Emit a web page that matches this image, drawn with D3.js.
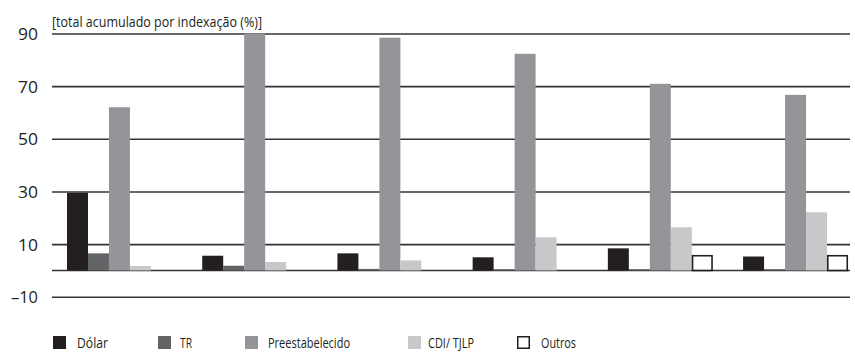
<!DOCTYPE html>
<html>
<head>
<meta charset="utf-8">
<script src="https://cdn.jsdelivr.net/npm/d3@7"></script>
<style>
  html, body { margin: 0; padding: 0; background: #fff; }
  svg { display: block; }
  text { font-family: "Open Sans", "Liberation Sans", sans-serif; fill: #231f20; }
</style>
</head>
<body>
<svg id="chart" width="855" height="352"></svg>
<script>
// Groups along the x axis (no labels are drawn for them)
const groups = ["G1", "G2", "G3", "G4", "G5", "G6"];

// Series names, in legend order
const seriesNames = ["Dólar", "TR", "Preestabelecido", "CDI/ TJLP", "Outros"];

// Accumulated share by indexation (%), one array per series
const dolar = [29.5, 5.6, 6.5, 5.0, 8.4, 5.3];
const tr = [6.5, 1.8, 0.6, 0.5, 0.5, 0.5];
const preestabelecido = [62, 90, 88.4, 82.3, 70.9, 66.7];
const cdiTjlp = [1.7, 3.2, 3.8, 12.6, 16.4, 22.1];
const outros = [0, 0, 0, 0, 5.6, 5.6];

// Y axis tick values and their labels
const yTicks = [-10, 10, 30, 50, 70, 90];
const yTickLabels = ["\u201310", "10", "30", "50", "70", "90"];

const axisTitle = "[total acumulado por indexação (%)]";

const seriesValues = [dolar, tr, preestabelecido, cdiTjlp, outros];
const fills = ["#231f20", "#636466", "#939598", "#c7c8ca", "#ffffff"];
const strokes = [null, null, null, null, "#231f20"];

const svg = d3.select("#chart");

const gridLeft = 52, gridRight = 850;

const y = d3.scaleLinear().domain([-10, 90]).range([296.8, 33.5]);

const x0 = d3.scaleBand().domain(groups).range([67, 848]).paddingInner(0.224).paddingOuter(0);
const x1 = d3.scaleBand().domain(seriesNames).range([0, x0.bandwidth()]).padding(0);

// Condensed look: squeeze a label to a given advance width
function condense(sel, width) {
  sel.attr("textLength", width).attr("lengthAdjust", "spacingAndGlyphs");
}

// Horizontal gridlines with their tick labels
const yAxis = d3.axisLeft(y)
  .tickValues(yTicks)
  .tickSize(-(gridRight - gridLeft))
  .tickPadding(14)
  .tickFormat((d, i) => yTickLabels[i]);

const axisG = svg.append("g")
  .attr("transform", `translate(${gridLeft},0)`)
  .call(yAxis);
axisG.select(".domain").remove();
axisG.selectAll(".tick line").attr("stroke", "#333").attr("stroke-width", 1.6);
axisG.selectAll(".tick text")
  .attr("font-size", 17)
  .attr("font-family", "\"Open Sans\", sans-serif")
  .attr("fill", "#231f20")
  .attr("dy", "0.36em")
  .each(function(d) {
    condense(d3.select(this), d < 0 ? 27 : 20);
  });

// Zero baseline
svg.append("line")
  .attr("x1", gridLeft).attr("x2", gridRight)
  .attr("y1", y(0)).attr("y2", y(0))
  .attr("stroke", "#333").attr("stroke-width", 1.6);

// Bars
const rows = [];
groups.forEach((g, gi) => {
  seriesNames.forEach((s, si) => {
    rows.push({ group: g, series: s, si, value: seriesValues[si][gi] });
  });
});

svg.append("g").selectAll("rect")
  .data(rows.filter(d => d.value > 0))
  .join("rect")
  .attr("x", d => x0(d.group) + x1(d.series) + (strokes[d.si] ? 0.75 : 0))
  .attr("width", d => x1.bandwidth() - (strokes[d.si] ? 1.5 : 0))
  .attr("y", d => y(d.value))
  .attr("height", d => y(0) - y(d.value))
  .attr("fill", d => fills[d.si])
  .attr("stroke", d => strokes[d.si] || "none")
  .attr("stroke-width", 1.6);

// Axis title
svg.append("text")
  .attr("x", gridLeft)
  .attr("y", 27)
  .attr("font-size", 14.5)
  .text(axisTitle)
  .call(condense, 210);

// Legend
const legendX = [53, 158, 245, 408, 517];
const legendTextDx = [24, 22, 23, 20, 24];
const legendTextW = [31, 12, 82, 46, 35];
const legend = svg.append("g").selectAll("g")
  .data(seriesNames)
  .join("g")
  .attr("transform", (d, i) => `translate(${legendX[i]},336)`);

legend.append("rect")
  .attr("x", (d, i) => strokes[i] ? 0.75 : 0)
  .attr("y", (d, i) => strokes[i] ? 0.75 : 0)
  .attr("width", (d, i) => strokes[i] ? 11.5 : 13)
  .attr("height", (d, i) => strokes[i] ? 11.5 : 13)
  .attr("fill", (d, i) => fills[i])
  .attr("stroke", (d, i) => strokes[i] || "none")
  .attr("stroke-width", 1.5);

legend.append("text")
  .attr("x", (d, i) => legendTextDx[i])
  .attr("y", 11.5)
  .attr("font-size", 14.5)
  .text(d => d)
  .each(function(d, i) { condense(d3.select(this), legendTextW[i]); });
</script>
</body>
</html>
